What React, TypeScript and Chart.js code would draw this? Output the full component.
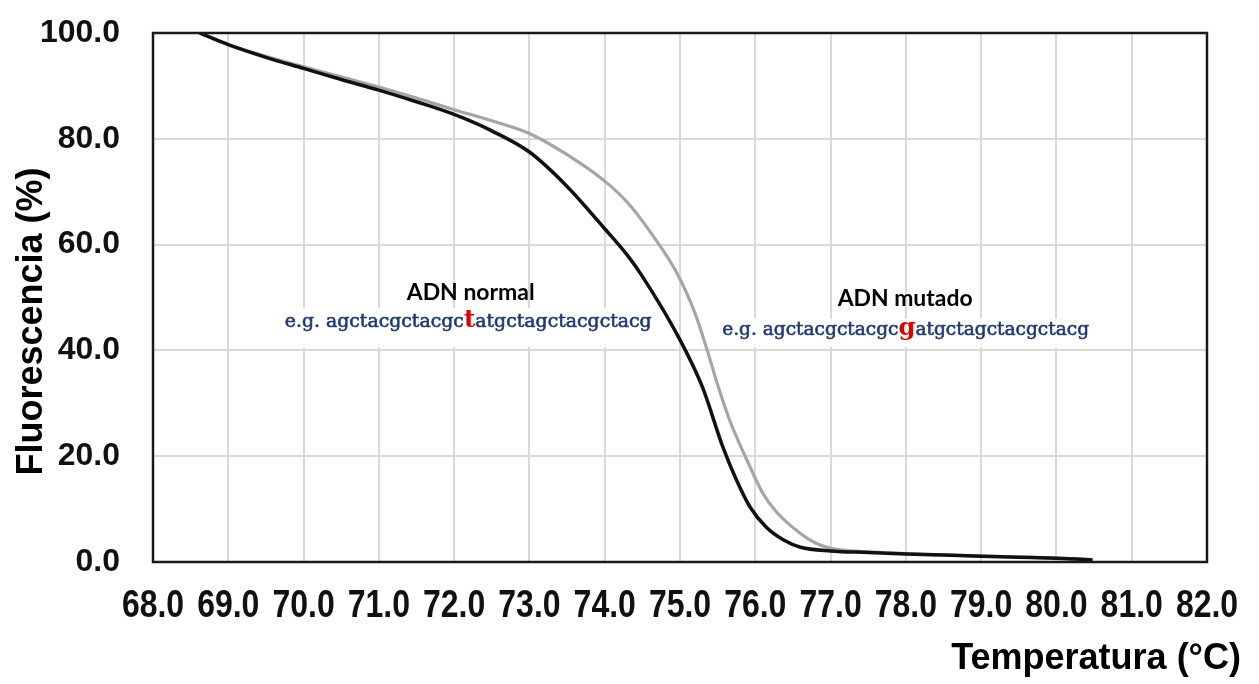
import React, { useEffect, useRef } from "react";
import { Chart, registerables } from "chart.js";

Chart.register(...registerables);

// ---- data ----
const normalTemp = [68.62, 69.0, 69.5, 70.0, 70.5, 71.0, 71.5, 72.0, 72.5, 73.0, 73.5, 74.0, 74.3, 74.5, 75.0, 75.3, 75.57, 75.75, 75.93, 76.15, 76.37, 76.6, 77.0, 77.5, 78.0, 78.5, 79.0, 79.5, 80.0, 80.48];
const normalFluor = [100, 97.8, 95.4, 93.3, 91.2, 89.2, 87.0, 84.6, 81.5, 77.5, 71.0, 63.0, 58.0, 54.0, 42.0, 33.0, 21.7, 15.5, 10.4, 6.5, 4.2, 2.8, 2.1, 1.8, 1.5, 1.3, 1.1, 0.9, 0.7, 0.4];

const mutadoTemp = [68.62, 69.0, 69.5, 70.0, 70.5, 71.0, 71.5, 72.0, 72.5, 73.0, 73.5, 74.0, 74.3, 74.6, 74.96, 75.2, 75.36, 75.5, 75.66, 75.93, 76.1, 76.29, 76.59, 76.8, 77.0, 77.5, 78.0, 78.5, 79.0, 79.5, 80.0, 80.48];
const mutadoFluor = [100, 97.8, 95.6, 93.6, 91.7, 89.8, 87.7, 85.5, 83.4, 81.0, 77.0, 72.0, 68.0, 62.5, 54.6, 47.0, 40.1, 33.5, 26.8, 18.0, 13.0, 9.3, 5.5, 3.6, 2.6, 1.9, 1.6, 1.35, 1.15, 0.95, 0.75, 0.45];

const xMin = 68;
const xMax = 82;
const xStep = 1;
const yMin = 0;
const yMax = 100;
const yStep = 20;

const xTitle = "Temperatura (°C)";
const yTitle = "Fluorescencia (%)";

const normalLabel = "ADN normal";
const normalSeq = ["e.g. agctacgctacgc", "t", "atgctagctacgctacg"];
const mutadoLabel = "ADN mutado";
const mutadoSeq = ["e.g. agctacgctacgc", "g", "atgctagctacgctacg"];

// annotation anchors in data units (temperature, fluorescence)
const annotations = [
  { label: normalLabel, seq: normalSeq, labelX: 72.22, labelY: 49.6, seqX: 69.75, seqY: 44.4, seqW: 367, labelW: 128, boxX0: 69.65, boxX1: 74.75, boxY0: 48.0, boxY1: 40.6 },
  { label: mutadoLabel, seq: mutadoSeq, labelX: 77.99, labelY: 48.4, seqX: 75.56, seqY: 42.9, seqW: 367, labelW: 135, boxX0: 75.5, boxX1: 80.45, boxY0: 46.0, boxY1: 40.6 },
];

const mk = (xs: number[], ys: number[]) => xs.map((x, i) => ({ x, y: ys[i] }));

export default function App() {
  const ref = useRef<HTMLCanvasElement | null>(null);

  useEffect(() => {
    if (!ref.current) return;

    const decor = {
      id: "decor",
      beforeDatasetsDraw(chart: any) {
        const { ctx, scales } = chart;
        const xs = scales.x;
        const ys = scales.y;
        ctx.save();
        ctx.fillStyle = "#ffffff";
        for (const a of annotations) {
          const x0 = xs.getPixelForValue(a.boxX0);
          const x1 = xs.getPixelForValue(a.boxX1);
          const y0 = ys.getPixelForValue(a.boxY0);
          const y1 = ys.getPixelForValue(a.boxY1);
          ctx.fillRect(x0, y0, x1 - x0, y1 - y0);
        }
        ctx.restore();
      },
      afterDatasetsDraw(chart: any) {
        const { ctx, chartArea, scales } = chart;
        const xs = scales.x;
        const ys = scales.y;
        ctx.save();
        // frame
        ctx.strokeStyle = "#1a1a1a";
        ctx.lineWidth = 2.5;
        ctx.strokeRect(chartArea.left, chartArea.top, chartArea.right - chartArea.left, chartArea.bottom - chartArea.top);

        // x tick labels (condensed bold face)
        ctx.fillStyle = "#111111";
        ctx.font = "bold 39px 'Liberation Sans'";
        ctx.textAlign = "center";
        ctx.textBaseline = "alphabetic";
        const sx = 0.82;
        for (const t of xs.ticks) {
          const px = xs.getPixelForValue(t.value);
          ctx.save();
          ctx.scale(sx, 1);
          ctx.fillText(Number(t.value).toFixed(1), px / sx, chartArea.bottom + 55);
          ctx.restore();
        }

        // annotations
        for (const a of annotations) {
          ctx.font = "bold 20px Lato";
          const w = ctx.measureText(a.label).width;
          const ls = (20 * a.labelW) / w;
          ctx.font = `bold ${ls.toFixed(2)}px Lato`;
          ctx.fillStyle = "#000000";
          ctx.textAlign = "center";
          ctx.textBaseline = "alphabetic";
          ctx.fillText(a.label, xs.getPixelForValue(a.labelX), ys.getPixelForValue(a.labelY));

          const base = 20;
          ctx.font = `${base}px 'DejaVu Serif'`;
          const w0 = ctx.measureText(a.seq[0]).width;
          const w2 = ctx.measureText(a.seq[2]).width;
          ctx.font = `bold ${base * 1.3}px 'DejaVu Serif'`;
          const w1 = ctx.measureText(a.seq[1]).width;
          const s = a.seqW / (w0 + w1 + w2);
          const fs = base * s;
          let x = xs.getPixelForValue(a.seqX);
          const y = ys.getPixelForValue(a.seqY);
          ctx.textAlign = "left";
          ctx.lineWidth = 0.6;
          ctx.font = `${fs.toFixed(2)}px 'DejaVu Serif'`;
          ctx.fillStyle = "#1f3a70";
          ctx.strokeStyle = "#1f3a70";
          ctx.fillText(a.seq[0], x, y);
          ctx.strokeText(a.seq[0], x, y);
          x += w0 * s;
          ctx.font = `bold ${(fs * 1.3).toFixed(2)}px 'DejaVu Serif'`;
          ctx.fillStyle = "#e00000";
          ctx.fillText(a.seq[1], x, y);
          x += w1 * s;
          ctx.font = `${fs.toFixed(2)}px 'DejaVu Serif'`;
          ctx.fillStyle = "#1f3a70";
          ctx.fillText(a.seq[2], x, y);
          ctx.strokeText(a.seq[2], x, y);
        }

        // axis titles
        ctx.fillStyle = "#000000";
        ctx.font = "bold 36px 'Liberation Sans'";
        ctx.textAlign = "right";
        ctx.textBaseline = "alphabetic";
        ctx.fillText(xTitle, chart.width - 18, 669);

        ctx.save();
        ctx.translate(42, (chartArea.top + chartArea.bottom) / 2 + 24);
        ctx.rotate(-Math.PI / 2);
        ctx.textAlign = "center";
        ctx.fillText(yTitle, 0, 0);
        ctx.restore();

        ctx.restore();
      },
    };

    const chart = new Chart(ref.current, {
      type: "line",
      data: {
        datasets: [
          {
            label: normalLabel,
            data: mk(normalTemp, normalFluor),
            borderColor: "#111111",
            borderWidth: 3.5,
            pointRadius: 0,
            cubicInterpolationMode: "monotone",
            fill: false,
          },
          {
            label: mutadoLabel,
            data: mk(mutadoTemp, mutadoFluor),
            borderColor: "#a5a5a5",
            borderWidth: 3.2,
            pointRadius: 0,
            cubicInterpolationMode: "monotone",
            fill: false,
          },
        ],
      },
      options: {
        animation: false,
        responsive: true,
        maintainAspectRatio: false,
        layout: { padding: { left: 0, right: 52, top: 33, bottom: 0 } },
        plugins: { legend: { display: false }, tooltip: { enabled: false } },
        scales: {
          x: {
            type: "linear",
            min: xMin,
            max: xMax,
            afterFit: (scale: any) => {
              scale.height = 122;
              scale.paddingLeft = 0;
              scale.paddingRight = 0;
            },
            ticks: {
              stepSize: xStep,
              autoSkip: false,
              maxRotation: 0,
              minRotation: 0,
              display: false,
            },
            grid: { color: "#d9d9d9", lineWidth: 2, drawTicks: false },
            border: { display: false },
          },
          y: {
            min: yMin,
            max: yMax,
            afterFit: (scale: any) => {
              scale.width = 153;
              scale.paddingTop = 0;
              scale.paddingBottom = 0;
            },
            ticks: {
              stepSize: yStep,
              padding: 33,
              color: "#111111",
              font: { family: "'Liberation Sans'", size: 32, weight: "bold" },
              callback: (v: any) => Number(v).toFixed(1),
            },
            grid: { color: "#d9d9d9", lineWidth: 2, drawTicks: false },
            border: { display: false },
          },
        },
      },
      plugins: [decor],
    });

    return () => chart.destroy();
  }, []);

  return (
    <div style={{ position: "absolute", left: 0, top: 0, width: 1259, height: 684, background: "#ffffff" }}>
      <canvas ref={ref} />
    </div>
  );
}
